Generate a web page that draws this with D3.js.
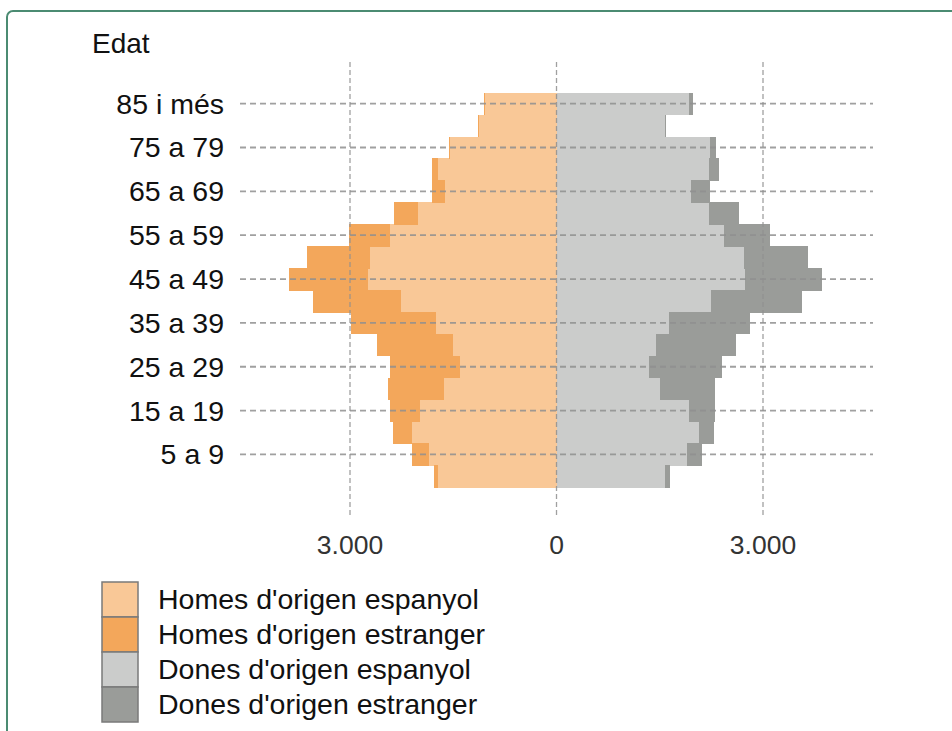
<!DOCTYPE html>
<html>
<head>
<meta charset="utf-8">
<script src="https://cdn.jsdelivr.net/npm/d3@7/dist/d3.min.js"></script>
<style>
  body { margin: 0; background: #fff; }
  text { font-family: "Liberation Sans", Arial, sans-serif; }
</style>
</head>
<body>
<div id="chart"></div>
<script>
// age groups, bottom to top
var ages = ["0 a 4", "5 a 9", "10 a 14", "15 a 19", "20 a 24", "25 a 29", "30 a 34",
  "35 a 39", "40 a 44", "45 a 49", "50 a 54", "55 a 59", "60 a 64", "65 a 69",
  "70 a 74", "75 a 79", "80 a 84", "85 i més"];
var tickAges = ["5 a 9", "15 a 19", "25 a 29", "35 a 39", "45 a 49", "55 a 59",
  "65 a 69", "75 a 79", "85 i més"];

var menSpanish   = [1720, 1850, 2100, 1980, 1630, 1400, 1500, 1750, 2260, 2740, 2710, 2420, 2010, 1620, 1720, 1540, 1120, 1040];
var menForeign   = [60, 250, 280, 440, 820, 1020, 1110, 1230, 1280, 1140, 920, 590, 350, 190, 90, 25, 25, 15];
var womenSpanish = [1570, 1890, 2070, 1920, 1500, 1350, 1440, 1640, 2240, 2740, 2720, 2440, 2210, 1950, 2210, 2230, 1570, 1920];
var womenForeign = [80, 220, 220, 380, 800, 1050, 1170, 1170, 1320, 1110, 940, 660, 440, 280, 145, 90, 25, 60];

var xTicks = [-3000, 0, 3000];
var legendLabels = ["Homes d'origen espanyol", "Homes d'origen estranger",
  "Dones d'origen espanyol", "Dones d'origen estranger"];
var colors = ["#f9c897", "#f3a75b", "#cbcccb", "#9a9c99"];

var width = 952, height = 731;

var svg = d3.select("#chart").append("svg")
    .attr("width", width)
    .attr("height", height);

// frame
svg.append("rect")
    .attr("x", 7).attr("y", 11)
    .attr("width", 960).attr("height", 740)
    .attr("rx", 6)
    .attr("fill", "none")
    .attr("stroke", "#4b8b72")
    .attr("stroke-width", 2);

// scales
var x = d3.scaleLinear().domain([-3000, 3000]).range([350, 763]);
var y = d3.scaleBand().domain(ages.slice().reverse()).range([92.7, 487.3]).padding(0);

// bars
var rows = ages.map(function(a, i) {
  return {age: a, ms: menSpanish[i], mf: menForeign[i], ws: womenSpanish[i], wf: womenForeign[i]};
});

function addBars(x0, x1, color) {
  svg.append("g").selectAll("rect")
    .data(rows)
    .enter().append("rect")
    .attr("x", function(d) { return Math.min(x(x0(d)), x(x1(d))); })
    .attr("width", function(d) { return Math.abs(x(x1(d)) - x(x0(d))); })
    .attr("y", function(d) { return y(d.age); })
    .attr("height", y.bandwidth() + 0.6)
    .attr("shape-rendering", "crispEdges")
    .attr("fill", color);
}
addBars(function(d) { return 0; }, function(d) { return -d.ms; }, colors[0]);
addBars(function(d) { return -d.ms; }, function(d) { return -d.ms - d.mf; }, colors[1]);
addBars(function(d) { return 0; }, function(d) { return d.ws; }, colors[2]);
addBars(function(d) { return d.ws; }, function(d) { return d.ws + d.wf; }, colors[3]);

// vertical grid lines
svg.append("g").selectAll("line")
  .data(xTicks)
  .enter().append("line")
  .attr("x1", function(d) { return x(d); })
  .attr("x2", function(d) { return x(d); })
  .attr("y1", 62).attr("y2", 518)
  .attr("stroke", "#8f8f8f")
  .attr("stroke-opacity", 0.85)
  .attr("stroke-width", 1.3)
  .attr("stroke-dasharray", "5,3");

// horizontal grid lines
svg.append("g").selectAll("line")
  .data(tickAges)
  .enter().append("line")
  .attr("x1", 240).attr("x2", 873)
  .attr("y1", function(d) { return y(d) + y.bandwidth() / 2; })
  .attr("y2", function(d) { return y(d) + y.bandwidth() / 2; })
  .attr("stroke", "#8f8f8f")
  .attr("stroke-opacity", 0.85)
  .attr("stroke-width", 1.8)
  .attr("stroke-dasharray", "6,4");

// y labels
svg.append("g").selectAll("text")
  .data(tickAges)
  .enter().append("text")
  .attr("x", 224)
  .attr("y", function(d) { return y(d) + y.bandwidth() / 2; })
  .attr("dy", "0.35em")
  .attr("text-anchor", "end")
  .attr("font-size", 28.5)
  .attr("fill", "#111")
  .text(function(d) { return d; });

svg.append("text")
  .attr("x", 92).attr("y", 53)
  .attr("font-size", 28)
  .attr("fill", "#111")
  .text("Edat");

// x labels
svg.append("g").selectAll("text")
  .data(xTicks)
  .enter().append("text")
  .attr("x", function(d) { return x(d); })
  .attr("y", 554)
  .attr("text-anchor", "middle")
  .attr("font-size", 26.5)
  .attr("fill", "#333")
  .text(function(d) { return d === 0 ? "0" : "3.000"; });

// legend
var leg = svg.append("g").attr("transform", "translate(102,582)");
leg.selectAll("rect")
  .data(legendLabels)
  .enter().append("rect")
  .attr("x", 0)
  .attr("y", function(d, i) { return i * 35; })
  .attr("width", 36).attr("height", 35)
  .attr("fill", function(d, i) { return colors[i]; })
  .attr("stroke", "#7a7a7a")
  .attr("stroke-width", 1.5);
leg.selectAll("text")
  .data(legendLabels)
  .enter().append("text")
  .attr("x", 56)
  .attr("y", function(d, i) { return i * 35 + 17.5; })
  .attr("dy", "0.35em")
  .attr("font-size", 28.5)
  .attr("fill", "#111")
  .text(function(d) { return d; });
</script>
</body>
</html>
